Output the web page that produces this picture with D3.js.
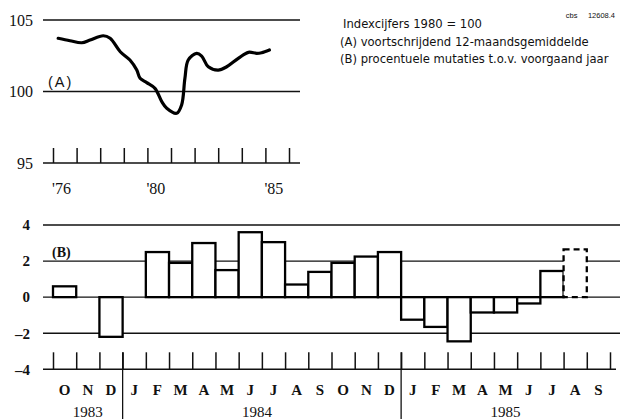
<!DOCTYPE html>
<html>
<head>
<meta charset="utf-8">
<script src="https://cdn.jsdelivr.net/npm/d3@7"></script>
<style>
  body { margin: 0; background: #fff; }
  svg { display: block; }
  .serif { font-family: "Liberation Serif", "Times New Roman", serif; }
  .sans { font-family: "Liberation Sans", Arial, sans-serif; }
  .legend { font-family: "DejaVu Sans", sans-serif; }
</style>
</head>
<body>
<div id="chart"></div>
<script>
// (A) index, 12-month moving average (1980 = 100)
const indexYears = [1976.22, 1976.72, 1977.22, 1977.57, 1978.13, 1978.42, 1978.85, 1979.26, 1979.55, 1979.69,
  1979.97, 1980.32, 1980.61, 1980.82, 1981.24, 1981.45, 1981.59, 1981.73, 1982.09, 1982.30,
  1982.58, 1983.00, 1983.36, 1983.85, 1984.28, 1984.63, 1984.84, 1985.17];
const indexValues = [103.72, 103.55, 103.41, 103.60, 103.90, 103.72, 102.78, 102.20, 101.50, 100.92,
  100.62, 100.22, 99.29, 98.83, 98.48, 99.06, 100.92, 102.20, 102.67, 102.48,
  101.73, 101.50, 101.73, 102.32, 102.74, 102.67, 102.71, 102.90];
const indexTickYears = d3.range(1976, 1987);
const indexLabelYears = [1976, 1980, 1985];
const indexYTicks = [95, 100, 105];

// (B) percentage change vs previous year, Oct 1983 - Sep 1985
const monthLabels = ["O", "N", "D", "J", "F", "M", "A", "M", "J", "J", "A", "S",
  "O", "N", "D", "J", "F", "M", "A", "M", "J", "J", "A", "S"];
const mutations = [0.6, null, -2.2, null, 2.5, 1.9, 3.0, 1.5, 3.6, 3.05, 0.7, 1.4,
  1.9, 2.25, 2.5, -1.25, -1.65, -2.45, -0.85, -0.85, -0.35, 1.45, 2.65, null];
const provisional = [22];
const yearLabels = ["1983", "1984", "1985"];
const yearMonthCounts = [3, 12, 9];
const mutationTicks = [-4, -2, 0, 2, 4];

const legendLines = [
  "Indexcijfers 1980 = 100",
  "(A) voortschrijdend 12-maandsgemiddelde",
  "(B) procentuele mutaties t.o.v. voorgaand jaar"
];

function draw() {
  const width = 624;
  const height = 419;
  const ink = "#111";

  const svg = d3.select("#chart")
    .append("svg")
    .attr("width", width)
    .attr("height", height);

  // ---------- top panel ----------
  const xA = d3.scaleLinear().domain([1976, 1986]).range([53, 289]);
  const yA = d3.scaleLinear().domain([95, 105]).range([163, 20]);

  const top = svg.append("g");

  top.selectAll("line.grid")
    .data(indexYTicks)
    .join("line")
    .attr("class", "grid")
    .attr("x1", 43).attr("x2", 300)
    .attr("y1", d => yA(d)).attr("y2", d => yA(d))
    .attr("stroke", ink)
    .attr("stroke-width", d => d === 95 ? 1.6 : 1.3);

  const axA = top.append("g")
    .attr("transform", `translate(0,${yA(95)})`)
    .call(d3.axisBottom(xA).tickValues(indexTickYears).tickSize(-15).tickSizeOuter(0).tickFormat(""));
  axA.select(".domain").remove();
  axA.selectAll(".tick line").attr("stroke", ink).attr("stroke-width", 1.5);

  top.selectAll("text.xlab")
    .data(indexLabelYears)
    .join("text")
    .attr("class", "xlab serif")
    .attr("x", d => xA(d) - 1)
    .attr("y", 194)
    .attr("font-size", 16)
    .attr("fill", ink)
    .text(d => "'" + String(d).slice(2));

  const ayA = top.append("g")
    .attr("transform", "translate(33,0)")
    .call(d3.axisLeft(yA).tickValues(indexYTicks).tickSize(0).tickPadding(0));
  ayA.select(".domain").remove();
  ayA.selectAll("text")
    .attr("class", "serif")
    .attr("font-size", 16)
    .attr("fill", ink);

  top.append("path")
    .datum(indexYears.map((yr, i) => [yr, indexValues[i]]))
    .attr("fill", "none")
    .attr("stroke", "#000")
    .attr("stroke-width", 3.2)
    .attr("stroke-linejoin", "round")
    .attr("stroke-linecap", "round")
    .attr("d", d3.line().x(d => xA(d[0])).y(d => yA(d[1])).curve(d3.curveCatmullRom.alpha(0.5)));

  top.append("text")
    .attr("class", "sans")
    .attr("x", 48).attr("y", 87)
    .attr("font-size", 14.5)
    .attr("letter-spacing", 2)
    .attr("fill", ink)
    .text("(A)");

  // legend
  svg.append("text")
    .attr("class", "sans")
    .attr("x", 615).attr("y", 18)
    .attr("text-anchor", "end")
    .attr("font-size", 7.5)
    .attr("fill", ink)
    .attr("xml:space", "preserve")
    .text("cbs     12608.4");

  svg.selectAll("text.legend")
    .data(legendLines)
    .join("text")
    .attr("class", "legend")
    .attr("x", (d, i) => i === 0 ? 343 : 340)
    .attr("y", (d, i) => 28 + i * 17.5)
    .attr("font-size", 11.6)
    .attr("fill", ink)
    .text(d => d);

  // ---------- bottom panel ----------
  const xB = d3.scaleLinear().domain([0, monthLabels.length]).range([53, 610]);
  const yB = d3.scaleLinear().domain([-4, 4]).range([369.3, 225]);

  const bot = svg.append("g");

  bot.selectAll("line.grid")
    .data(mutationTicks)
    .join("line")
    .attr("class", "grid")
    .attr("x1", 43).attr("x2", d => d === -4 ? 616 : 620)
    .attr("y1", d => yB(d)).attr("y2", d => yB(d))
    .attr("stroke", ink)
    .attr("stroke-width", d => d === -4 ? 1.6 : 1.3);

  const ayB = bot.append("g")
    .attr("transform", "translate(30,0)")
    .call(d3.axisLeft(yB).tickValues(mutationTicks).tickSize(0).tickPadding(0)
      .tickFormat(d => d < 0 ? "\u2013" + Math.abs(d) : d));
  ayB.select(".domain").remove();
  ayB.selectAll("text")
    .attr("class", "serif")
    .attr("font-size", 15)
    .attr("font-weight", "bold")
    .attr("fill", ink);

  const bars = mutations
    .map((v, i) => ({ i, v }))
    .filter(d => d.v !== null);

  bot.selectAll("rect.bar")
    .data(bars)
    .join("rect")
    .attr("class", "bar")
    .attr("x", d => xB(d.i))
    .attr("width", d => xB(d.i + 1) - xB(d.i))
    .attr("y", d => yB(Math.max(0, d.v)))
    .attr("height", d => Math.abs(yB(d.v) - yB(0)))
    .attr("fill", "#fff")
    .attr("stroke", "#000")
    .attr("stroke-width", 2.3)
    .attr("stroke-dasharray", d => provisional.includes(d.i) ? "6,4" : null);

  const axB = bot.append("g")
    .attr("transform", `translate(0,${yB(-4)})`)
    .call(d3.axisBottom(xB).tickValues(d3.range(monthLabels.length + 1))
      .tickSize(-17).tickSizeOuter(0).tickFormat(""));
  axB.select(".domain").remove();
  axB.selectAll(".tick line").attr("stroke", ink).attr("stroke-width", 1.5);

  bot.selectAll("text.month")
    .data(monthLabels)
    .join("text")
    .attr("class", "month serif")
    .attr("x", (d, i) => (xB(i) + xB(i + 1)) / 2)
    .attr("y", 395)
    .attr("text-anchor", "middle")
    .attr("font-size", 15)
    .attr("font-weight", "bold")
    .attr("fill", ink)
    .text(d => d);

  const yearStarts = d3.cumsum([0].concat(yearMonthCounts));
  bot.selectAll("text.year")
    .data(yearLabels)
    .join("text")
    .attr("class", "year serif")
    .attr("x", (d, i) => (xB(yearStarts[i]) + xB(yearStarts[i + 1])) / 2 - (i === 1 ? 5 : 0))
    .attr("y", 417)
    .attr("text-anchor", "middle")
    .attr("font-size", 15)
    .attr("fill", ink)
    .text(d => d);

  bot.selectAll("line.sep")
    .data(yearStarts.slice(1, -1))
    .join("line")
    .attr("class", "sep")
    .attr("x1", d => xB(d)).attr("x2", d => xB(d))
    .attr("y1", yB(-4) - 17).attr("y2", height)
    .attr("stroke", ink)
    .attr("stroke-width", 1.3);

  bot.append("text")
    .attr("class", "serif")
    .attr("x", 52).attr("y", 257)
    .attr("font-size", 14)
    .attr("font-weight", "bold")
    .attr("fill", ink)
    .text("(B)");
}
draw();
</script>
</body>
</html>
